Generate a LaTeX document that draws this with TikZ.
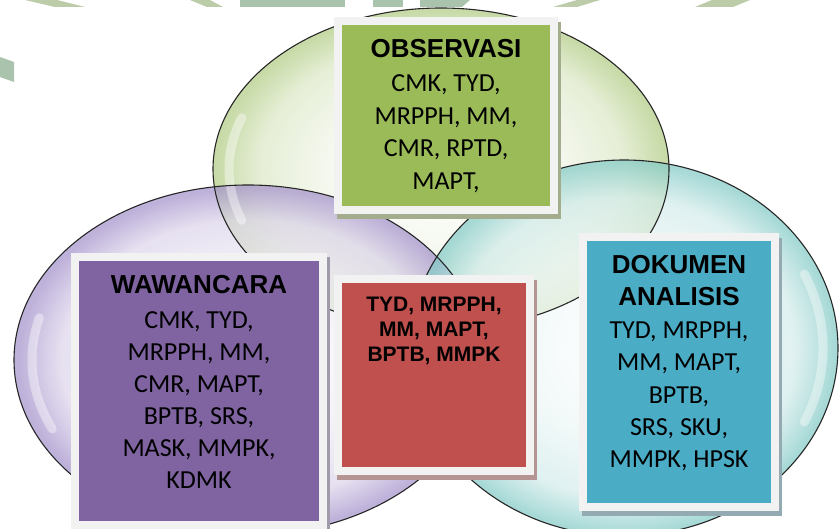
\documentclass[tikz,border=0pt]{standalone}
\usepackage{fontspec}
\setmainfont{Carlito}
\newfontfamily\headfont{Liberation Sans}
\usetikzlibrary{shadows}
\definecolor{gBox}{HTML}{9BBB59}
\definecolor{pBox}{HTML}{8064A2}
\definecolor{rBox}{HTML}{C0504D}
\definecolor{tBox}{HTML}{4BACC6}
\definecolor{frameCol}{HTML}{F2F2F2}
\definecolor{gShadow}{HTML}{A3AD8E}
\definecolor{pShadow}{HTML}{A09AAA}
\definecolor{rShadow}{HTML}{B59494}
\definecolor{tShadow}{HTML}{93AAB2}
\definecolor{gIn}{HTML}{F3F7EC}
\definecolor{gMid}{HTML}{DCE8C6}
\definecolor{gRim}{HTML}{B3CD86}
\definecolor{pIn}{HTML}{F2EFF7}
\definecolor{pMid}{HTML}{DDD5EB}
\definecolor{pRim}{HTML}{A593CC}
\definecolor{tIn}{HTML}{EEF7F7}
\definecolor{tMid}{HTML}{D3ECEB}
\definecolor{tRim}{HTML}{86CCC8}
\definecolor{wm1}{HTML}{A9C3AD}
\definecolor{wm2}{HTML}{BCCBA8}
\pgfdeclareradialshading{bubG}{\pgfpoint{0bp}{0bp}}{color(0bp)=(white); color(12bp)=(gIn); color(20bp)=(gMid); color(24.6bp)=(gRim); color(25bp)=(gRim); color(50bp)=(gRim)}
\pgfdeclareradialshading{bubP}{\pgfpoint{0bp}{0bp}}{color(0bp)=(white); color(12bp)=(pIn); color(20bp)=(pMid); color(24.6bp)=(pRim); color(25bp)=(pRim); color(50bp)=(pRim)}
\pgfdeclareradialshading{bubT}{\pgfpoint{0bp}{0bp}}{color(0bp)=(white); color(12bp)=(tIn); color(20bp)=(tMid); color(24.6bp)=(tRim); color(25bp)=(tRim); color(50bp)=(tRim)}
\begin{document}
\begin{tikzpicture}[x=1pt,y=-1pt,
  bubble/.style={opacity=0.72},
  rim/.style={draw=black!85, line width=1.1pt},
  gloss/.style={draw=white, line width=9pt, line cap=round, opacity=0.4},
  frame/.style={draw=frameCol, line width=8pt, inner sep=0pt, outer sep=0pt},
  boxG/.style={frame, fill=gBox, minimum width=216pt, minimum height=189pt,
    general shadow={fill=gShadow, draw=gShadow, line width=8pt, shadow xshift=3pt, shadow yshift=-5pt}},
  boxP/.style={frame, fill=pBox, minimum width=248pt, minimum height=267.5pt,
    general shadow={fill=pShadow, draw=pShadow, line width=8pt, shadow xshift=3pt, shadow yshift=-4pt}},
  boxR/.style={frame, fill=rBox, minimum width=192pt, minimum height=192pt,
    general shadow={fill=rShadow, draw=rShadow, line width=8pt, shadow xshift=3pt, shadow yshift=-5pt}},
  boxT/.style={frame, fill=tBox, minimum width=192pt, minimum height=270pt,
    general shadow={fill=tShadow, draw=tShadow, line width=8pt, shadow xshift=3pt, shadow yshift=-5pt}},
  head/.style={font=\headfont\bfseries\fontsize{26}{32}\selectfont, align=center, inner sep=0pt, anchor=base},
  body/.style={font=\fontsize{26}{32.4}\selectfont, align=center, inner sep=0pt, anchor=base},
  redtext/.style={font=\headfont\bfseries\fontsize{21}{25}\selectfont, align=center, inner sep=0pt, anchor=base}
]
\useasboundingbox (0,0) rectangle (839,529);
\fill[white] (0,0) rectangle (839,529);
% watermark fragments
\fill[wm2] (25,0) -- (57,0) -- (85,7) -- (55,7) -- cycle;
\fill[wm2] (190,0) -- (210,0) -- (223,7) -- (207,7) -- cycle;
\fill[wm1] (240,0) rectangle (345,7);
\fill[wm1] (373,0) rectangle (403,7);
\fill[wm1] (420,0) -- (470,0) -- (462,7) -- (420,7) -- cycle;
\fill[wm2] (577,0) -- (600,0) -- (577,7) -- (553,7) -- cycle;
\fill[wm2] (712,0) -- (750,0) -- (733,7) -- (695,7) -- cycle;
\fill[wm1] (0,57) -- (14,62) -- (14,82) -- (0,77) -- cycle;
% bubbles
\shade[bubble, shading=bubG] (441,169) ellipse [x radius=228pt, y radius=161pt];
\shade[bubble, shading=bubP] (248,360) ellipse [x radius=234pt, y radius=175pt];
\shade[bubble, shading=bubT] (624,348) ellipse [x radius=214pt, y radius=188pt];
% glossy highlights
\draw[gloss] (241.8,117.7) arc [start angle=160, end angle=200, x radius=212pt, y radius=150pt];
\draw[gloss] (39.4,317.8) arc [start angle=165, end angle=205, x radius=216pt, y radius=163pt];
\draw[gloss] (804.4,422) arc [start angle=-25, end angle=25, x radius=199pt, y radius=175pt];
\draw[rim] (441,169) ellipse [x radius=228pt, y radius=161pt];
\draw[rim] (248,360) ellipse [x radius=234pt, y radius=175pt];
\draw[rim] (624,348) ellipse [x radius=214pt, y radius=188pt];
% boxes
\node[boxG] (obsBox) at (446,115.5) {};
\node[boxP] (wawBox) at (199,391.25) {};
\node[boxR] (midBox) at (434,375) {};
\node[boxT] (dokBox) at (679,372.5) {};
% texts (anchor = baseline of last line)
\node[head] (obsHead) at (446,58) {OBSERVASI};
\node[body] (obsBody) at (446,189.2) {CMK, TYD,\\MRPPH, MM,\\CMR, RPTD,\\MAPT,};
\node[head] (wawHead) at (199,294) {WAWANCARA};
\node[body, font=\fontsize{26}{32.2}\selectfont] (wawBody) at (199,489) {CMK, TYD,\\MRPPH, MM,\\CMR, MAPT,\\BPTB, SRS,\\MASK, MMPK,\\KDMK};
\node[redtext] (midText) at (434,362) {TYD, MRPPH,\\MM, MAPT,\\BPTB, MMPK};
\node[head] (dokHead) at (679,306) {DOKUMEN\\ANALISIS};
\node[body] (dokBody) at (679,468) {TYD, MRPPH,\\MM, MAPT,\\BPTB,\\SRS, SKU,\\MMPK, HPSK};
\end{tikzpicture}
\end{document}
